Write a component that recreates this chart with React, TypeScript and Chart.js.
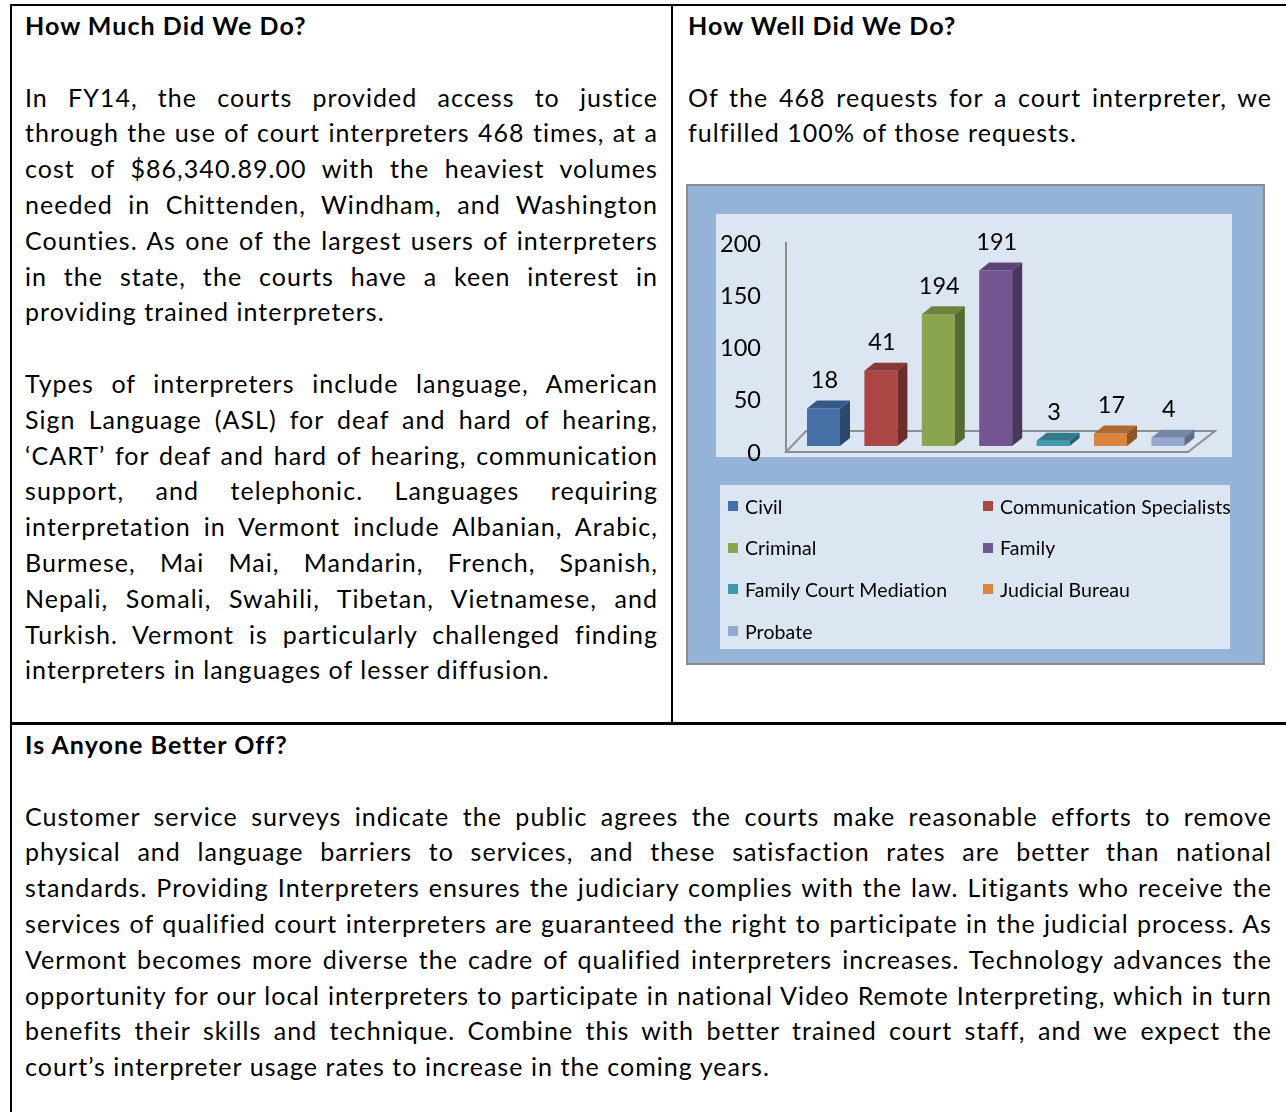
import React, { useEffect, useLayoutEffect, useRef } from "react";
import { Chart, registerables } from "chart.js";

Chart.register(...registerables);

// ---- chart data ----
const categories = [
  "Civil",
  "Communication Specialists",
  "Criminal",
  "Family",
  "Family Court Mediation",
  "Judicial Bureau",
  "Probate",
];
// bar heights as drawn in the picture (on the 0-200 axis)
const barHeights = [36, 72, 126, 168, 5, 12, 8];
// value labels as printed above the bars
const valueLabels = ["18", "41", "194", "191", "3", "17", "4"];
const yTicks = [0, 50, 100, 150, 200];
const barColors = ["#4470A6", "#AA4643", "#89A54E", "#735591", "#4198AF", "#DB843D", "#93A9CF"];

// ---- text ----
const leftHeading = "How Much Did We Do?";
const leftPara1 = [
  "In FY14, the courts provided access to justice",
  "through the use of court interpreters 468 times, at a",
  "cost of $86,340.89.00 with the heaviest volumes",
  "needed in Chittenden, Windham, and Washington",
  "Counties. As one of the largest users of interpreters",
  "in the state, the courts have a keen interest in",
  "providing trained interpreters.",
];
const leftPara2 = [
  "Types of interpreters include language, American",
  "Sign Language (ASL) for deaf and hard of hearing,",
  "\u2018CART\u2019 for deaf and hard of hearing, communication",
  "support, and telephonic. Languages requiring",
  "interpretation in Vermont include Albanian, Arabic,",
  "Burmese, Mai Mai, Mandarin, French, Spanish,",
  "Nepali, Somali, Swahili, Tibetan, Vietnamese, and",
  "Turkish. Vermont is particularly challenged finding",
  "interpreters in languages of lesser diffusion.",
];
const rightHeading = "How Well Did We Do?";
const rightPara = [
  "Of the 468 requests for a court interpreter, we",
  "fulfilled 100% of those requests.",
];
const bottomHeading = "Is Anyone Better Off?";
const bottomPara = [
  "Customer service surveys indicate the public agrees the courts make reasonable efforts to remove",
  "physical and language barriers to services, and these satisfaction rates are better than national",
  "standards. Providing Interpreters ensures the judiciary complies with the law. Litigants who receive the",
  "services of qualified court interpreters are guaranteed the right to participate in the judicial process. As",
  "Vermont becomes more diverse the cadre of qualified interpreters increases. Technology advances the",
  "opportunity for our local interpreters to participate in national Video Remote Interpreting, which in turn",
  "benefits their skills and technique. Combine this with better trained court staff, and we expect the",
  "court\u2019s interpreter usage rates to increase in the coming years.",
];

const FONT = "Lato, 'Open Sans', sans-serif";
const BODY_SIZE = 25;
const BODY_LS = 1.05;
const LINE_H = 35.8;
const PLOT_BG = "#DCE6F2";
const FRAME_BG = "#95B3D7";

function shade(hex: string, f: number) {
  const n = parseInt(hex.slice(1), 16);
  const r = Math.round(((n >> 16) & 255) * f);
  const g = Math.round(((n >> 8) & 255) * f);
  const b = Math.round((n & 255) * f);
  return `rgb(${r},${g},${b})`;
}

const bar3dPlugin = {
  id: "bar3d",
  beforeDraw(chart: any) {
    const ctx = chart.ctx;
    ctx.save();
    ctx.fillStyle = PLOT_BG;
    ctx.fillRect(28, 28, 516, 243);
    ctx.restore();
  },
  beforeDatasetsDraw(chart: any) {
    const { ctx, chartArea } = chart;
    const { left, right, bottom } = chartArea;
    const yScale = chart.scales.y;
    ctx.save();
    ctx.strokeStyle = "#8E8E8E";
    ctx.lineWidth = 2;
    const fx = left - 8.8;
    const fy = bottom + 6;
    const by = bottom - 15;
    ctx.beginPath();
    ctx.moveTo(fx, fy);
    ctx.lineTo(right - 8.6, fy);
    ctx.lineTo(right + 18.4, by);
    ctx.lineTo(left + 11.2, by);
    ctx.closePath();
    ctx.stroke();
    ctx.beginPath();
    ctx.moveTo(fx, fy);
    ctx.lineTo(fx, yScale.getPixelForValue(200) + 5);
    ctx.stroke();
    ctx.restore();
  },
  afterDatasetsDraw(chart: any) {
    const ctx = chart.ctx;
    const meta = chart.getDatasetMeta(0);
    const dx = 10;
    const dy = -8;
    ctx.save();
    meta.data.forEach((bar: any, i: number) => {
      const { x, y, base, width } = bar.getProps(["x", "y", "base", "width"], true);
      const l = x - width / 2;
      const r = x + width / 2;
      const c = barColors[i];
      // top face
      ctx.fillStyle = shade(c, 0.8);
      ctx.beginPath();
      ctx.moveTo(l, y);
      ctx.lineTo(r, y);
      ctx.lineTo(r + dx, y + dy);
      ctx.lineTo(l + dx, y + dy);
      ctx.closePath();
      ctx.fill();
      // side face
      ctx.fillStyle = shade(c, 0.64);
      ctx.beginPath();
      ctx.moveTo(r, y);
      ctx.lineTo(r + dx, y + dy);
      ctx.lineTo(r + dx, base + dy);
      ctx.lineTo(r, base);
      ctx.closePath();
      ctx.fill();
      // value label
      ctx.fillStyle = "#000";
      ctx.font = `23.5px ${FONT}`;
      ctx.textAlign = "center";
      ctx.textBaseline = "middle";
      ctx.fillText(valueLabels[i], x + 1, y - 28);
    });
    ctx.restore();
  },
};

function ChartBox() {
  const ref = useRef<HTMLCanvasElement | null>(null);
  useEffect(() => {
    if (!ref.current) return;
    const chart = new Chart(ref.current, {
      type: "bar",
      data: {
        labels: categories,
        datasets: [
          {
            data: barHeights,
            backgroundColor: barColors,
            borderWidth: 0,
            categoryPercentage: 1,
            barPercentage: 0.575,
          },
        ],
      },
      options: {
        animation: false,
        responsive: false,
        maintainAspectRatio: false,
        layout: { padding: { left: 0, right: 66.4, top: 51, bottom: 217 } },
        plugins: { legend: { display: false }, tooltip: { enabled: false } },
        scales: {
          x: { display: false },
          y: {
            min: 0,
            max: 200,
            afterBuildTicks: (s: any) => {
              s.ticks = yTicks.map((v) => ({ value: v }));
            },
            afterFit: (s: any) => {
              s.width = 106.8;
            },
            grid: { display: false, drawTicks: false },
            border: { display: false },
            ticks: {
              padding: 33.8,
              labelOffset: 7,
              color: "#000",
              font: { family: FONT, size: 23.5 },
            },
          },
        },
      },
      plugins: [bar3dPlugin],
    });
    return () => chart.destroy();
  }, []);

  return (
    <div
      style={{
        position: "absolute",
        left: 686,
        top: 184,
        width: 575,
        height: 477,
        border: "2px solid #8C8C8C",
        background: FRAME_BG,
        letterSpacing: 0,
      }}
    >
      <canvas ref={ref} width={575} height={477} style={{ position: "absolute", left: 0, top: 0 }} />
      <div
        style={{
          position: "absolute",
          left: 32,
          top: 299,
          width: 510,
          height: 164,
          background: PLOT_BG,
        }}
      />
      {categories.map((c, i) => {
        const row = Math.floor(i / 2);
        const col = i % 2;
        const cy = 320 + row * 41.7;
        const sx = col === 0 ? 40 : 295;
        return (
          <div
            key={c}
            style={{
              position: "absolute",
              left: sx,
              top: cy - 12,
              height: 24,
              display: "flex",
              alignItems: "center",
              whiteSpace: "nowrap",
              fontFamily: FONT,
              fontSize: 19.5,
              letterSpacing: 0.1,
              color: "#000",
            }}
          >
            <span style={{ width: 10, height: 10, background: barColors[i], marginRight: 7, display: "inline-block" }} />
            <span>{c}</span>
          </div>
        );
      })}
    </div>
  );
}

type Block = { heading: string; paras: string[][] };

function TextBlock({ left, top, width, block }: { left: number; top: number; width: number; block: Block }) {
  const rows: { text: string; bold?: boolean; just?: boolean }[] = [];
  rows.push({ text: block.heading, bold: true });
  block.paras.forEach((p) => {
    rows.push({ text: "" });
    p.forEach((t, i) => rows.push({ text: t, just: i < p.length - 1 }));
  });
  return (
    <div style={{ position: "absolute", left, top, width }}>
      {rows.map((r, i) => (
        <div
          key={i}
          style={{
            height: LINE_H,
            lineHeight: `${LINE_H}px`,
            whiteSpace: "pre",
            fontWeight: r.bold ? 700 : 400,
            width,
          }}
        >
          <span data-just={r.just ? "1" : "0"} data-w={width}>
            {r.text}
          </span>
        </div>
      ))}
    </div>
  );
}

export default function App() {
  const rootRef = useRef<HTMLDivElement | null>(null);
  useLayoutEffect(() => {
    const root = rootRef.current;
    if (!root) return;
    const spans = root.querySelectorAll("span[data-just]");
    spans.forEach((el) => {
      const s = el as HTMLSpanElement;
      const w = parseFloat(s.dataset.w || "0");
      s.style.wordSpacing = "0px";
      s.style.letterSpacing = `${BODY_LS}px`;
      const natural = s.getBoundingClientRect().width;
      const text = s.textContent || "";
      if (natural > w) {
        s.style.letterSpacing = `${BODY_LS + (w - natural) / text.length}px`;
      } else if (s.dataset.just === "1") {
        const spaces = (text.match(/ /g) || []).length;
        if (spaces > 0) s.style.wordSpacing = `${(w - natural) / spaces}px`;
      }
    });
  }, []);

  return (
    <div
      ref={rootRef}
      style={{
        position: "absolute",
        left: 0,
        top: 0,
        width: 1286,
        height: 1112,
        overflow: "hidden",
        background: "#fff",
        fontFamily: FONT,
        fontSize: BODY_SIZE,
        color: "#000",
      }}
    >
      {/* table rules */}
      <div style={{ position: "absolute", left: 10, top: 4, width: 1276, height: 2, background: "#000" }} />
      <div style={{ position: "absolute", left: 10, top: 4, width: 2, height: 1108, background: "#000" }} />
      <div style={{ position: "absolute", left: 671, top: 4, width: 2, height: 720, background: "#000" }} />
      <div style={{ position: "absolute", left: 10, top: 722, width: 1276, height: 2.5, background: "#000" }} />

      <TextBlock left={25} top={8.1} width={633} block={{ heading: leftHeading, paras: [leftPara1, leftPara2] }} />
      <TextBlock left={688} top={8.1} width={584} block={{ heading: rightHeading, paras: [rightPara] }} />
      <TextBlock left={25} top={727.1} width={1247} block={{ heading: bottomHeading, paras: [bottomPara] }} />

      <ChartBox />
    </div>
  );
}
